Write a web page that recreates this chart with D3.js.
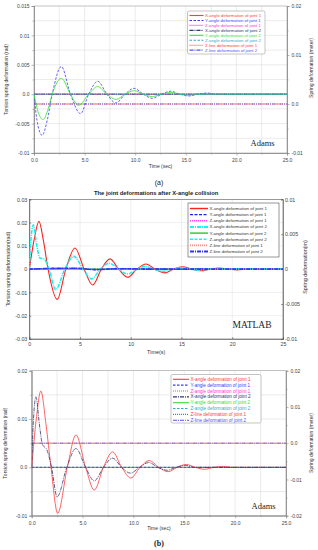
<!DOCTYPE html>
<html lang="en">
<head>
<meta charset="UTF-8">
<title>Joint deformations</title>
<script src="https://d3js.org/d3.v7.min.js"></script>
<style>
    body { margin: 0; background: #fff; }
    svg { display: block; }
    .tick text { font-family: Arial, "Liberation Sans", sans-serif; }
</style>
</head>
<body>
<div id="chart"></div>
<script>
// ---- legend entries (same order in every panel) ----
const legendNames = [
    "X-angle deformation of joint 1",
    "Y-angle deformation of joint 1",
    "Z-angle deformation of joint 1",
    "X-angle deformation of joint 2",
    "Y-angle deformation of joint 2",
    "Z-angle deformation of joint 2",
    "Z-line deformation of joint 1",
    "Z-line deformation of joint 2"
];

// ---- panel (a) Adams : [time, value] ----
const aYAngle1 = [[0,0],[0.3,-0.0045],[0.8,-0.007],[1.3,-0.0045],[1.8,0],[2.7,0.0047],[3.6,0],[4.6,-0.0033],[5.4,0],[6.3,0.0022],[7.2,0],[8.1,-0.0015],[9,0],[9.9,0.001],[10.8,0],[11.7,-0.0007],[12.6,0],[13.5,0.0005],[14.4,0],[15.3,-0.0003],[16.2,0],[17.1,0.0002],[18,0],[25,0]];
const aYAngle2 = [[0,0],[0.4,-0.003],[0.9,-0.0043],[1.4,-0.0025],[1.8,0],[2.7,0.0027],[3.6,0],[4.4,-0.0019],[5.4,0],[6.3,0.0013],[7.2,0],[8.1,-0.0009],[9,0],[9.9,0.0006],[10.8,0],[11.7,-0.0004],[12.6,0],[13.5,0.0003],[14.4,0],[15.3,-0.0002],[16.2,0],[25,0]];
const aFlat = [[0,0],[25,0]];

// ---- panel MATLAB : [time, value] ----
const mXAngle1 = [[0,0],[0.45,0.012],[0.95,0.0205],[1.4,0.012],[1.85,0],[2.75,-0.013],[3.6,0],[4.5,0.0091],[5.4,0],[6.25,-0.0068],[7.1,0],[7.95,0.0044],[8.8,0],[9.7,-0.0035],[10.6,0],[11.5,0.0022],[12.4,0],[13.4,-0.0016],[14.2,0],[15.1,0.001],[16,0],[16.9,-0.0007],[17.8,0],[18.7,0.0005],[19.6,0],[20.5,-0.0003],[21.4,0],[25,0]];
const mXAngle2 = [[0,0],[0.15,0.012],[0.4,0.019],[0.7,0.011],[1.05,0.0048],[1.45,0.0044],[1.95,0],[2.6,-0.0088],[3.5,0],[4.4,0.0055],[5.3,0],[6.15,-0.0042],[7,0],[7.9,0.0025],[8.8,0],[9.7,-0.0021],[10.6,0],[11.4,0.0012],[12.3,0],[13.2,-0.0009],[14.1,0],[15,0.0006],[15.9,0],[16.8,-0.0004],[17.7,0],[25,0]];
const mSmall = [[0,0],[2,0.0003],[4.5,0.0004],[6.5,-0.0002],[9,0.0002],[12,0],[25,0]];
const mFlat = [[0,0],[25,0]];

// ---- panel (b) Adams : [time, value] ----
const bXAngle1 = [[0,0],[0.45,0.01],[0.9,0.0158],[1.4,0.009],[1.9,0],[2.55,-0.0095],[3.5,0],[4.35,0.0067],[5.3,0],[6.15,-0.0047],[7.05,0],[7.95,0.0032],[8.85,0],[9.75,-0.0022],[10.65,0],[11.55,0.0014],[12.5,0],[13.4,-0.0009],[14.3,0],[15.2,0.0006],[16.1,0],[17,-0.0004],[17.9,0],[18.8,0.0002],[19.7,0],[25,0]];
const bXAngle2 = [[0,0],[0.15,0.009],[0.42,0.0146],[0.75,0.009],[1.05,0.0048],[1.5,0.0036],[1.95,0],[2.5,-0.0061],[3.45,0],[4.35,0.0039],[5.3,0],[6.15,-0.0028],[7.05,0],[7.95,0.0019],[8.85,0],[9.7,-0.0012],[10.6,0],[11.5,0.001],[12.4,0],[13.3,-0.0006],[14.2,0],[15.1,0.0004],[16,0],[25,0]];
const bFlat = [[0,0],[25,0]];
const bZLine2 = [[0,0.005],[25,0.005]];

const xTicksAdams = [0, 5, 10, 15, 20, 25];
const xTicksMatlab = [0, 5, 10, 15, 20, 25];

const W = 318, H = 550;
const svg = d3.select("#chart").append("svg")
    .attr("width", W).attr("height", H);
svg.append("rect").attr("width", W).attr("height", H).attr("fill", "#fff");

// styles for Adams panels (colour, dash, width)
const adamsStyles = [
    {c: "#ff3b3b", d: null, w: 0.8},
    {c: "#3a3aff", d: "2.5,1.5", w: 0.8},
    {c: "#ff33cc", d: "1,1", w: 0.8},
    {c: "#33336e", d: "4,1,1,1", w: 0.8},
    {c: "#33e033", d: null, w: 0.8},
    {c: "#33aacc", d: "2.5,1.5", w: 0.8},
    {c: "#ff3b3b", d: "1,1", w: 0.8},
    {c: "#5050ff", d: "4,1,1,1", w: 0.8}
];
const matlabStyles = [
    {c: "#ff2020", d: null, w: 1.1},
    {c: "#2020ff", d: "3,1.5", w: 1.1},
    {c: "#ff44ff", d: "1,1", w: 1.1},
    {c: "#22eeee", d: "4,1,1,1", w: 1.6},
    {c: "#22cc22", d: null, w: 1.1},
    {c: "#22eeee", d: "3,1.5", w: 1.1},
    {c: "#ff8888", d: "1,1", w: 1.6},
    {c: "#3333ff", d: "4,1,1,1", w: 1.6}
];

function drawPanel(p) {
    const g = svg.append("g");
    const x = d3.scaleLinear().domain([0, 25]).range([p.x0, p.x1]);
    const yL = d3.scaleLinear().domain(p.yLeft).range([p.y1, p.y0]);
    const yR = d3.scaleLinear().domain(p.yRight).range([p.y1, p.y0]);
    const fs = p.matlab ? 5.3 : 5;
    const tcol = p.matlab ? "#444" : "#444";

    // grid
    const gridCol = p.matlab ? "#e4e4e4" : "#dedede";
    g.append("g").selectAll("line").data(p.xGrid).join("line")
        .attr("x1", d => x(d)).attr("x2", d => x(d))
        .attr("y1", p.y0).attr("y2", p.y1)
        .attr("stroke", gridCol).attr("stroke-width", 0.6);
    g.append("g").selectAll("line").data(p.yGrid).join("line")
        .attr("x1", p.x0).attr("x2", p.x1)
        .attr("y1", d => yL(d)).attr("y2", d => yL(d))
        .attr("stroke", gridCol).attr("stroke-width", 0.6);

    // frame
    g.append("rect").attr("x", p.x0).attr("y", p.y0)
        .attr("width", p.x1 - p.x0).attr("height", p.y1 - p.y0)
        .attr("fill", "none")
        .attr("stroke", p.matlab ? "#555" : "#999").attr("stroke-width", 0.6);

    // axes
    const styleAxis = sel => {
        sel.select(".domain").attr("stroke", p.matlab ? "#555" : "#888").attr("stroke-width", 0.6);
        sel.selectAll(".tick line").attr("stroke", p.matlab ? "#555" : "#888").attr("stroke-width", 0.6);
        sel.selectAll(".tick text").attr("font-size", fs).attr("fill", tcol);
    };
    const tk = p.matlab ? -2 : 2.5;
    g.append("g").attr("transform", `translate(0,${p.y1})`)
        .call(d3.axisBottom(x).tickValues(p.xTicks).tickFormat(p.xFmt).tickSize(tk).tickPadding(3))
        .call(styleAxis);
    g.append("g").attr("transform", `translate(${p.x0},0)`)
        .call(d3.axisLeft(yL).tickValues(p.yLTicks).tickFormat(p.yLFmt).tickSize(tk).tickPadding(2))
        .call(styleAxis);
    g.append("g").attr("transform", `translate(${p.x1},0)`)
        .call(d3.axisRight(yR).tickValues(p.yRTicks).tickFormat(p.yRFmt).tickSize(tk).tickPadding(2))
        .call(styleAxis);
    if (p.minorL) {
        g.append("g").attr("transform", `translate(${p.x0},0)`)
            .call(d3.axisLeft(yL).tickValues(p.minorL).tickFormat("").tickSize(1.5)).call(styleAxis);
        g.append("g").attr("transform", `translate(${p.x1},0)`)
            .call(d3.axisRight(yR).tickValues(p.minorR).tickFormat("").tickSize(1.5)).call(styleAxis);
        g.append("g").attr("transform", `translate(0,${p.y1})`)
            .call(d3.axisBottom(x).tickValues(p.minorX).tickFormat("").tickSize(1.5)).call(styleAxis);
    }

    // series
    const clipId = "clip" + p.id;
    svg.append("clipPath").attr("id", clipId).append("rect")
        .attr("x", p.x0).attr("y", p.y0).attr("width", p.x1 - p.x0).attr("height", p.y1 - p.y0);
    const lineL = d3.line().x(d => x(d[0])).y(d => yL(d[1])).curve(d3.curveMonotoneX);
    const lineR = d3.line().x(d => x(d[0])).y(d => yR(d[1])).curve(d3.curveMonotoneX);
    const lines = g.append("g").attr("clip-path", `url(#${clipId})`);
    p.series.forEach(s => {
        const st = p.styles[s.i];
        lines.append("path").datum(s.data)
            .attr("d", s.right ? lineR : lineL)
            .attr("fill", "none").attr("stroke", st.c)
            .attr("stroke-width", st.w)
            .attr("stroke-dasharray", st.d);
    });

    // legend
    const L = p.legend;
    g.append("rect").attr("x", L.x).attr("y", L.y).attr("width", L.w).attr("height", L.h)
        .attr("fill", "#fff").attr("stroke", p.matlab ? "#333" : "#888").attr("stroke-width", 0.5)
        .attr("rx", p.matlab ? 0 : 1.5);
    legendNames.forEach((name, i) => {
        const st = p.styles[i];
        const yy = L.y + L.top + i * L.dy;
        g.append("line").attr("x1", L.x + 2).attr("x2", L.x + L.lw)
            .attr("y1", yy).attr("y2", yy)
            .attr("stroke", st.c).attr("stroke-width", st.w + 0.3)
            .attr("stroke-dasharray", st.d);
        g.append("text").attr("x", L.x + L.lw + 1.5).attr("y", yy)
            .attr("dy", "0.35em")
            .attr("font-family", "Arial, 'Liberation Sans', sans-serif")
            .attr("font-size", L.fs)
            .attr("fill", p.matlab ? "#333" : st.c)
            .text(name);
    });

    // labels
    g.append("text").attr("transform", `translate(${p.lx},${(p.y0 + p.y1) / 2}) rotate(-90)`)
        .attr("text-anchor", "middle").attr("font-family", "Arial, sans-serif")
        .attr("font-size", p.labFs).attr("fill", "#333").text(p.leftLabel);
    g.append("text").attr("transform", `translate(${p.rx},${p.ry}) rotate(-90)`)
        .attr("text-anchor", "middle").attr("font-family", "Arial, sans-serif")
        .attr("font-size", p.labFs).attr("fill", "#333").text(p.rightLabel);
    g.append("text").attr("x", (p.x0 + p.x1) / 2).attr("y", p.xly)
        .attr("text-anchor", "middle").attr("font-family", "Arial, sans-serif")
        .attr("font-size", p.labFs).attr("fill", "#333").text(p.xLabel);
    g.append("text").attr("x", p.tagX).attr("y", p.tagY)
        .attr("font-family", "'Liberation Serif', 'DejaVu Serif', serif")
        .attr("font-size", p.tagFs).attr("fill", "#222").text(p.tag);
    if (p.title) {
        g.append("text").attr("x", (p.x0 + p.x1) / 2).attr("y", p.y0 - 4)
            .attr("text-anchor", "middle").attr("font-family", "Arial, sans-serif")
            .attr("font-weight", "bold").attr("font-size", 5.8).attr("fill", "#222").text(p.title);
    }
}

const fmtAdams = d => d === 0 ? "0.0" : String(d);
const half = (a, b, s) => d3.range(a, b + s / 2, s).map(v => +v.toFixed(4));

// (a) Adams
drawPanel({
    id: 1, matlab: false, styles: adamsStyles,
    x0: 34, x1: 287, y0: 6, y1: 153,
    yLeft: [-0.01, 0.015], yRight: [-0.01, 0.02],
    xTicks: xTicksAdams, xFmt: d3.format(".1f"),
    yLTicks: [-0.01, -0.005, 0, 0.005, 0.01, 0.015], yLFmt: fmtAdams,
    yRTicks: [-0.01, 0, 0.01, 0.02], yRFmt: fmtAdams,
    minorL: half(-0.0075, 0.0125, 0.005), minorR: half(-0.005, 0.015, 0.01), minorX: half(2.5, 22.5, 5),
    xGrid: half(2.5, 22.5, 2.5), yGrid: half(-0.0075, 0.0125, 0.0025),
    series: [
        {i: 0, data: aFlat}, {i: 2, data: aFlat}, {i: 3, data: aFlat},
        {i: 6, data: aFlat, right: true}, {i: 7, data: aFlat, right: true},
        {i: 1, data: aYAngle1}, {i: 4, data: aYAngle2}, {i: 5, data: aFlat}
    ],
    legend: {x: 187.5, y: 11, w: 77.5, h: 43, top: 4.5, dy: 4.95, lw: 16, fs: 4.3},
    leftLabel: "Torsion spring deformation (rad)", lx: 8, labFs: 5,
    rightLabel: "Spring deformation (meter)", rx: 313, ry: 68,
    xLabel: "Time (sec)", xly: 168,
    tag: "Adams", tagX: 250.5, tagY: 146, tagFs: 8.5
});

// MATLAB
drawPanel({
    id: 2, matlab: true, styles: matlabStyles,
    x0: 29.3, x1: 283, y0: 199.3, y1: 339,
    yLeft: [-0.03, 0.03], yRight: [-0.01, 0.01],
    xTicks: xTicksMatlab, xFmt: d3.format("d"),
    yLTicks: [-0.03, -0.02, -0.01, 0, 0.01, 0.02, 0.03], yLFmt: d => d === 0 ? "0" : String(d),
    yRTicks: [-0.01, -0.005, 0, 0.005, 0.01], yRFmt: d => d === 0 ? "0" : String(d),
    xGrid: [5, 10, 15, 20], yGrid: [-0.02, -0.01, 0, 0.01, 0.02],
    series: [
        {i: 2, data: mFlat}, {i: 4, data: mFlat}, {i: 5, data: mFlat},
        {i: 6, data: mFlat, right: true}, {i: 1, data: mSmall},
        {i: 0, data: mXAngle1}, {i: 3, data: mXAngle2},
        {i: 7, data: mSmall}
    ],
    legend: {x: 188, y: 203, w: 91, h: 54, top: 5.5, dy: 6.15, lw: 20, fs: 4.4},
    leftLabel: "Torsion spring deformation(rad)", lx: 9.5, labFs: 5.4,
    rightLabel: "Spring deformation(m)", rx: 307, ry: 267,
    xLabel: "Time(s)", xly: 354,
    tag: "MATLAB", tagX: 232.5, tagY: 328, tagFs: 9.5,
    title: "The joint deformations after X-angle collision"
});

// (b) Adams
drawPanel({
    id: 3, matlab: false, styles: adamsStyles,
    x0: 31.7, x1: 286, y0: 370.7, y1: 515.7,
    yLeft: [-0.01, 0.02], yRight: [-0.02, 0.02],
    xTicks: xTicksAdams, xFmt: d3.format(".1f"),
    yLTicks: [-0.01, 0, 0.01, 0.02], yLFmt: fmtAdams,
    yRTicks: [-0.02, -0.01, 0, 0.01, 0.02], yRFmt: fmtAdams,
    minorL: half(-0.005, 0.015, 0.01), minorR: half(-0.015, 0.015, 0.01), minorX: half(2.5, 22.5, 5),
    xGrid: half(2.5, 22.5, 2.5), yGrid: half(-0.005, 0.015, 0.005),
    series: [
        {i: 2, data: bFlat}, {i: 4, data: bFlat}, {i: 5, data: bFlat},
        {i: 1, data: bFlat}, {i: 6, data: bFlat, right: true},
        {i: 7, data: bZLine2},
        {i: 0, data: bXAngle1}, {i: 3, data: bXAngle2}
    ],
    legend: {x: 171, y: 374.5, w: 90, h: 48.5, top: 4.8, dy: 5.85, lw: 18, fs: 4.6},
    leftLabel: "Torsion spring deformation (rad)", lx: 7, labFs: 5,
    rightLabel: "Spring deformation (meter)", rx: 313, ry: 443,
    xLabel: "Time (sec)", xly: 530,
    tag: "Adams", tagX: 251.5, tagY: 509, tagFs: 8.5
});

// captions
svg.append("text").attr("x", 159).attr("y", 185).attr("text-anchor", "middle")
    .attr("font-family", "Arial, sans-serif").attr("font-size", 7).attr("fill", "#222").text("(a)");
svg.append("text").attr("x", 159).attr("y", 546).attr("text-anchor", "middle")
    .attr("font-family", "'Liberation Serif', serif").attr("font-weight", "bold")
    .attr("font-size", 8).attr("fill", "#222").text("(b)");
</script>
</body>
</html>
